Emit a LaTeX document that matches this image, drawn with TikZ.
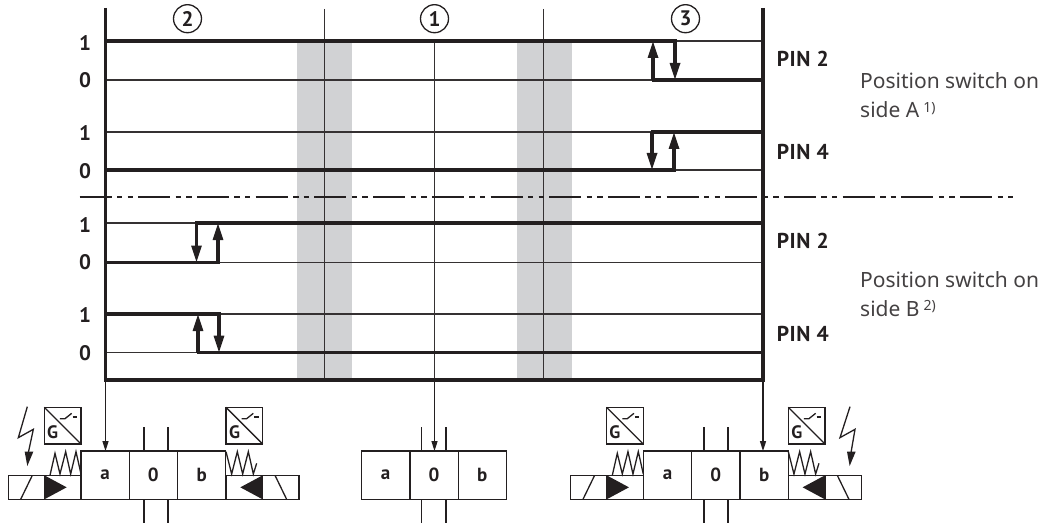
\documentclass[tikz,border=0pt]{standalone}
\usepackage{fontspec}
\setmainfont{PT Sans}
\newfontfamily\descfont{Noto Sans}
\newfontfamily\pinfont[LetterSpace=2.5]{PT Sans}
\usetikzlibrary{arrows.meta}
\definecolor{ink}{HTML}{231F20}
\definecolor{band}{HTML}{D1D2D4}
\tikzset{
  thick line/.style={draw=ink,line width=3.1pt,line cap=butt,line join=miter},
  grid line/.style={draw=ink!92!white,line width=1.4pt},
  step arrow/.style={draw=ink,line width=3.1pt,-{Triangle[length=17pt,width=10pt]}},
  pos arrow/.style={draw=ink,line width=1.4pt,-{Triangle[length=10pt,width=6pt]}},
  level/.style={font=\bfseries\fontsize{21}{21}\selectfont,text=ink,inner sep=0pt},
  pinlabel/.style={font=\pinfont\bfseries\fontsize{21.5}{21.5}\selectfont,text=ink,anchor=west,inner sep=0pt},
  desc/.style={font=\descfont\fontsize{21}{29}\selectfont,text=ink!85!white,anchor=west,inner sep=0pt,align=left},
  cell/.style={draw=ink,line width=1.3pt,minimum width=48.3pt,minimum height=48.3pt,inner sep=0pt,outer sep=0pt,font=\bfseries\fontsize{19}{19}\selectfont,text=ink},
  circled/.style={circle,draw=ink,line width=1.3pt,minimum size=28pt,inner sep=0pt,font=\bfseries\fontsize{21}{21}\selectfont,text=ink},
  sym/.style={draw=ink,line width=1.3pt},
  letterG/.style={font=\bfseries\fontsize{18}{18}\selectfont,text=ink,inner sep=0pt},
}
\newcommand{\footmark}[1]{\hspace{4pt}\raisebox{5.5pt}{\fontsize{14}{14}\selectfont #1}}
\newcommand{\solleft}{%
  \draw[sym] (25,316) rectangle (243,388);
  \draw[sym] (133,316) -- (133,388);
  \draw[sym] (62,388) -- (97,316);
  \fill[ink] (133,316) -- (200,352) -- (133,388) -- cycle;
  \draw[sym] (150,316) -- (165,250) -- (180,312) -- (197,245) -- (212,312) -- (228,245) -- (243,312);
  \draw[sym] (133,112) rectangle (243,222);
  \draw[sym] (133,112) -- (243,222);
  \draw[sym] (180,146) -- (195,146) -- (215,130);
  \draw[sym] (218,141) -- (231,141);
  \node[letterG] at (158,188) {G};
}
\newcommand{\solright}{%
  \draw[sym] (678,316) rectangle (897,388);
  \draw[sym] (788,316) -- (788,388);
  \draw[sym] (825,316) -- (860,388);
  \fill[ink] (788,316) -- (721,352) -- (788,388) -- cycle;
  \draw[sym] (678,245) -- (695,312) -- (712,245) -- (728,312) -- (745,245) -- (760,312) -- (770,280);
  \draw[sym] (678,112) rectangle (788,222);
  \draw[sym] (678,112) -- (788,222);
  \draw[sym] (725,146) -- (740,146) -- (760,130);
  \draw[sym] (763,141) -- (776,141);
  \node[letterG] at (704,188) {G};
}
\begin{document}
\begin{tikzpicture}[x=1pt,y=-1pt]
\useasboundingbox (0,0) rectangle (1044,524);
% grey bands
\fill[band] (297,41) rectangle (352,380);
\fill[band] (517,41) rectangle (572,380);
% level lines
\foreach \yy in {41,80,132,170,223,262.5,314,352.7}
  \draw[grid line] (105.5,\yy) -- (763,\yy);
% verticals
\draw[grid line] (324.5,9) -- (324.5,380);
\draw[grid line] (434.5,40) -- (434.5,380);
\draw[grid line] (543.5,9) -- (543.5,380);
% dash-dot
\coordinate (dashL) at (79.6,197);
\coordinate (dashR) at (1012.8,197);
\draw[draw=ink,line width=1.3pt,dash pattern=on 32pt off 5.4pt on 5.4pt off 5.2pt on 5.4pt off 5.3pt] (dashL) -- (dashR);
% signal traces side A
\draw[thick line] (105.5,41) -- (676.5,41);
\draw[thick line] (651.5,80) -- (763,80);
\draw[step arrow] (675,41) -- (675,80);
\draw[step arrow] (653,80) -- (653,41);
\draw[thick line] (105.5,170) -- (675.5,170);
\draw[thick line] (650.5,132) -- (763,132);
\draw[step arrow] (652,132) -- (652,170);
\draw[step arrow] (674,170) -- (674,132);
% signal traces side B
\draw[thick line] (195,223) -- (763,223);
\draw[thick line] (105.5,262.5) -- (219.5,262.5);
\draw[step arrow] (196.5,223) -- (196.5,262.5);
\draw[step arrow] (218,262.5) -- (218,223);
\draw[thick line] (105.5,314) -- (220.5,314);
\draw[thick line] (196.5,352.7) -- (763,352.7);
\draw[step arrow] (198,352.7) -- (198,314);
\draw[step arrow] (219,314) -- (219,352.7);
% frame
\draw[thick line] (105.5,8) -- (105.5,381.5);
\draw[thick line] (763,8) -- (763,381.5);
\draw[thick line] (104,380) -- (764.5,380);
% circled numbers
\node[circled] (c2) at (187.5,18.7) {2};
\node[circled] (c1) at (434.5,18.7) {1};
\node[circled] (c3) at (685.5,18.7) {3};
% level labels
\foreach \yy/\tt/\nm in {43/1/a,80.5/0/b,133.5/1/c,171.5/0/d,225/1/e,262.5/0/f,315.5/1/g,353/0/h}
  \node[level] (lv\nm) at (85,\yy) {\tt};
% pin labels
\node[pinlabel] (p1) at (776.7,59.3) {PIN 2};
\node[pinlabel] (p2) at (776.7,151.7) {PIN 4};
\node[pinlabel] (p3) at (776.7,240.7) {PIN 2};
\node[pinlabel] (p4) at (776.7,334) {PIN 4};
\node[desc] (d1) at (860,95.5) {Position switch on\\side A\footmark{1)}};
\node[desc] (d2) at (860,294) {Position switch on\\side B\footmark{2)}};
% valve 1
\node[cell] (a1) at (105,475.2) {a};
\node[cell,anchor=west] (o1) at (a1.east) {0};
\node[cell,anchor=west] (b1) at (o1.east) {b};
% valve 2
\node[cell] (a2) at (385.7,475.2) {a};
\node[cell,anchor=west] (o2) at (a2.east) {0};
\node[cell,anchor=west] (b2) at (o2.east) {b};
% valve 3
\node[cell] (a3) at (667.5,475.2) {a};
\node[cell,anchor=west] (o3) at (a3.east) {0};
\node[cell,anchor=west] (b3) at (o3.east) {b};
% position arrows
\coordinate (ax1) at (105.5,380);
\coordinate (ax2) at (434.5,380);
\coordinate (ax3) at (763,380);
\draw[pos arrow] (ax1) -- (ax1 |- a1.north);
\draw[pos arrow] (ax2) -- (ax2 |- a2.north);
\draw[pos arrow] (ax3) -- (ax3 |- a3.north);
% ports
\foreach \v/\pa/\pb in {1/144/168,2/421.7/446,3/704/728}{
  \draw[sym] (\pa,427.3) -- (\pa,451);
  \draw[sym] (\pb,427.3) -- (\pb,451);
  \draw[sym] (\pa,499.4) -- (\pa,523.3);
  \draw[sym] (\pb,499.4) -- (\pb,523.3);
}
% solenoids valve 1
\begin{scope}[yshift=-370pt,x=0.33333pt,y=-0.33333pt]
\solleft
\solright
\draw[sym] (82,110) -- (55,203) -- (100,178) -- (85,248);
\fill[ink] (74,245) -- (100,245) -- (82,288) -- cycle;
\end{scope}
% solenoids valve 3
\begin{scope}[yshift=-370pt,xshift=562.3pt,x=0.33333pt,y=-0.33333pt]
\solleft
\solright
\end{scope}
\begin{scope}[yshift=-370pt,xshift=560pt,x=0.33333pt,y=-0.33333pt]
\draw[sym] (870,110) -- (840,203) -- (885,178) -- (873,248);
\fill[ink] (861,245) -- (887,245) -- (869,288) -- cycle;
\end{scope}
\end{tikzpicture}
\end{document}
